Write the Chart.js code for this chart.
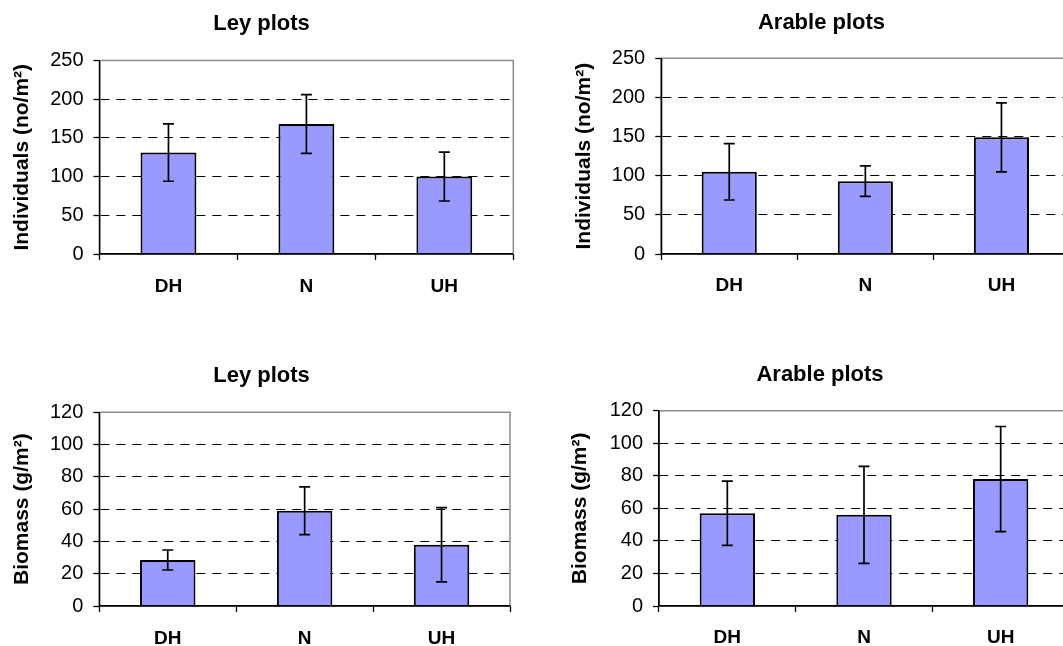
<!DOCTYPE html>
<html lang="en">
<head>
  <meta charset="UTF-8">
  <title>Ley and arable plots</title>
  <script src="https://cdn.jsdelivr.net/npm/chart.js"></script>
  <style>
    html, body { margin: 0; padding: 0; background: #fff; }
    body { width: 1063px; height: 646px; overflow: hidden; position: relative; }
    canvas { position: absolute; }
  </style>
</head>
<body>

<canvas id="leyInd"></canvas>
<canvas id="arableInd"></canvas>
<canvas id="leyBio"></canvas>
<canvas id="arableBio"></canvas>

<script>
  const categories = ['DH', 'N', 'UH'];

  const leyIndividuals = [131, 168, 100];
  const leyIndividualsErr = [37, 38, 31.5];
  const arableIndividuals = [105, 93, 149];
  const arableIndividualsErr = [36, 19.5, 44];

  const leyBiomass = [28.5, 59, 38];
  const leyBiomassErr = [6.2, 14.8, 23];
  const arableBiomass = [57, 56, 78];
  const arableBiomassErr = [19.7, 29.8, 32.3];

  const FONT = "'Liberation Sans', Arial, sans-serif";

  // error bars drawn through the y scale of each chart
  const errorBars = {
    id: 'errorBars',
    afterDatasetsDraw(chart, args, opts) {
      const ctx = chart.ctx;
      const y = chart.scales.y;
      const meta = chart.getDatasetMeta(0);
      const vals = chart.data.datasets[0].data;
      ctx.save();
      ctx.strokeStyle = '#000';
      ctx.lineWidth = 1.7;
      meta.data.forEach((bar, i) => {
        const hi = y.getPixelForValue(vals[i] + opts.err[i]);
        const lo = y.getPixelForValue(vals[i] - opts.err[i]);
        ctx.beginPath();
        ctx.moveTo(bar.x, hi); ctx.lineTo(bar.x, lo);
        ctx.moveTo(bar.x - 5.5, hi); ctx.lineTo(bar.x + 5.5, hi);
        ctx.moveTo(bar.x - 5.5, lo); ctx.lineTo(bar.x + 5.5, lo);
        ctx.stroke();
      });
      ctx.restore();
    }
  };

  // grey top and right edge of the plot area, black left and bottom axis lines
  const plotFrame = {
    id: 'plotFrame',
    afterDraw(chart) {
      const {ctx, chartArea: a} = chart;
      ctx.save();
      ctx.strokeStyle = '#8c8c8c';
      ctx.lineWidth = 1.5;
      ctx.beginPath();
      ctx.moveTo(a.left, a.top);
      ctx.lineTo(a.right, a.top);
      ctx.lineTo(a.right, a.bottom);
      ctx.stroke();
      ctx.strokeStyle = '#000';
      ctx.lineWidth = 1.4;
      ctx.beginPath();
      ctx.moveTo(a.left, a.top);
      ctx.lineTo(a.left, a.bottom);
      ctx.lineTo(a.right, a.bottom);
      ctx.stroke();
      ctx.restore();
    }
  };

  function makeChart(id, box, title, yTitle, values, errs, yMax, yStep) {
    const cv = document.getElementById(id);
    cv.width = box.w;
    cv.height = 310;
    cv.style.left = box.x + 'px';
    cv.style.top = box.y + 'px';

    return new Chart(cv, {
      type: 'bar',
      data: {
        labels: categories,
        datasets: [{
          data: values,
          backgroundColor: '#9999ff',
          borderColor: '#000',
          borderWidth: 2,
          categoryPercentage: 1,
          barPercentage: 0.405
        }]
      },
      plugins: [errorBars, plotFrame],
      options: {
        responsive: false,
        animation: false,
        devicePixelRatio: 1,
        layout: { padding: 0 },
        plugins: {
          legend: { display: false },
          tooltip: { enabled: false },
          title: {
            display: true,
            text: title,
            color: '#000',
            font: { family: FONT, size: 22, weight: 'bold' },
            padding: { top: box.titleTop, bottom: box.plotTop - box.titleTop - 26.4 }
          },
          errorBars: { err: errs }
        },
        scales: {
          x: {
            offset: true,
            grid: { display: true, drawOnChartArea: false, tickLength: 6, tickColor: '#000', tickWidth: 1.3 },
            border: { color: '#000', width: 1.3 },
            ticks: { color: '#000', padding: box.xPad, font: { family: FONT, size: 19, weight: 'bold' } },
            afterFit: s => { s.height = 56; }
          },
          y: {
            min: 0,
            max: yMax,
            ticks: { stepSize: yStep, color: '#000', padding: 10, font: { family: FONT, size: 20 } },
            grid: {
              color: c => (c.tick && (c.tick.value === yMax || c.tick.value === 0)) ? 'rgba(0,0,0,0)' : '#000',
              lineWidth: 1,
              tickLength: 6,
              tickColor: '#000',
              tickWidth: 1.3
            },
            border: { color: '#000', width: 1.3, dash: [9, 7] },
            title: {
              display: true,
              text: yTitle,
              color: '#000',
              font: { family: FONT, size: 21, weight: 'bold' },
              padding: { top: box.yTitleX - 12.6, bottom: 0 }
            },
            afterFit: s => { s.width = box.plotLeft; }
          },
          pad: {
            type: 'linear',
            position: 'right',
            display: true,
            grid: { display: false },
            border: { display: false },
            ticks: { display: false },
            afterFit: s => { s.width = box.w - box.plotRight; }
          }
        }
      }
    });
  }

  makeChart('leyInd',
    { x: 0, y: 0, w: 523, titleTop: 10.6, plotTop: 60.5, plotLeft: 99.5, plotRight: 513.3, yTitleX: 22, xPad: 15 },
    'Ley plots', 'Individuals (no/m²)', leyIndividuals, leyIndividualsErr, 250, 50);

  makeChart('arableInd',
    { x: 530, y: 0, w: 583, titleTop: 9.6, plotTop: 58.3, plotLeft: 131.2, plotRight: 539.5, yTitleX: 54, xPad: 14.5 },
    'Arable plots', 'Individuals (no/m²)', arableIndividuals, arableIndividualsErr, 250, 50);

  makeChart('leyBio',
    { x: 0, y: 352, w: 523, titleTop: 11, plotTop: 60.3, plotLeft: 99.3, plotRight: 510, yTitleX: 22.5, xPad: 15 },
    'Ley plots', 'Biomass (g/m²)', leyBiomass, leyBiomassErr, 120, 20);

  makeChart('arableBio',
    { x: 530, y: 352, w: 580, titleTop: 9.3, plotTop: 58.7, plotLeft: 129, plotRight: 539, yTitleX: 50.7, xPad: 14.5 },
    'Arable plots', 'Biomass (g/m²)', arableBiomass, arableBiomassErr, 120, 20);
</script>

</body>
</html>
